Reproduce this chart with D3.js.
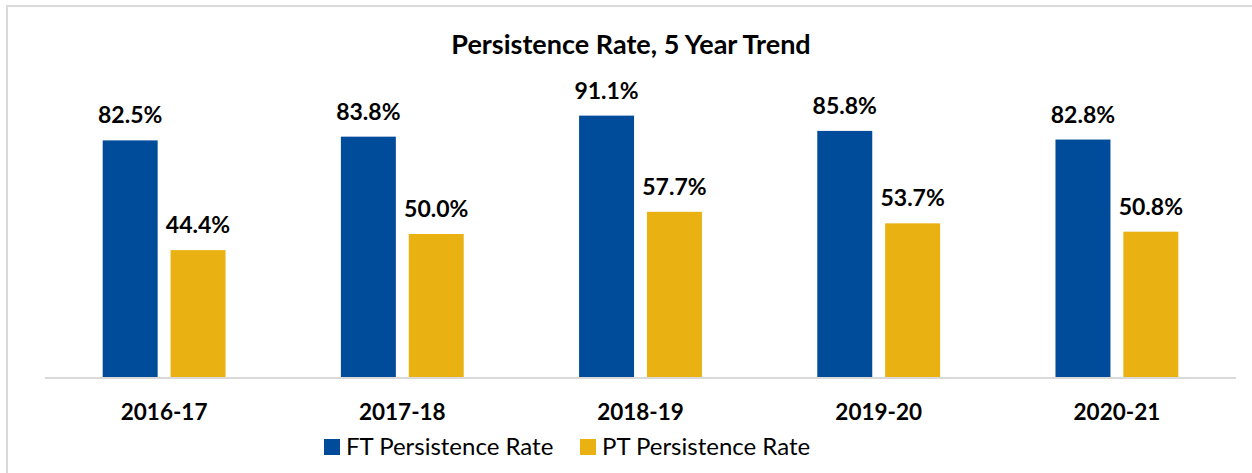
<!DOCTYPE html>
<html>
<head>
<meta charset="utf-8">
<script src="https://cdn.jsdelivr.net/npm/d3@7"></script>
<style>
  body { margin: 0; background: #fff; }
  svg text { font-family: Lato, "Open Sans", sans-serif; fill: #000; }
</style>
</head>
<body>
<svg id="chart"></svg>
<script>
const width = 1252;
const height = 473;
const margin = {left: 45, right: 16, top: 90, bottom: 95};

const years = ["2016-17", "2017-18", "2018-19", "2019-20", "2020-21"];
const series = ["FT Persistence Rate", "PT Persistence Rate"];
const ft_rate = [82.5, 83.8, 91.1, 85.8, 82.8];
const pt_rate = [44.4, 50.0, 57.7, 53.7, 50.8];
const colors = ["#004B9A", "#E9B112"];

const svg = d3.select("#chart")
    .attr("width", width)
    .attr("height", height);

// chart frame, runs off right/bottom like the screenshot
svg.append("rect")
    .attr("x", 7)
    .attr("y", 6)
    .attr("width", width + 10)
    .attr("height", height + 10)
    .attr("fill", "none")
    .attr("stroke", "#d9d9d9")
    .attr("stroke-width", 2);

const x = d3.scaleBand()
    .domain(years)
    .range([margin.left, width - margin.right]);

const x_inner = d3.scaleBand()
    .domain(series)
    .range([0, x.bandwidth()])
    .paddingInner(0.19)
    .paddingOuter(0.85);

const y = d3.scaleLinear()
    .domain([0, 100])
    .range([height - margin.bottom, margin.top]);

const rows = years.map((yr, i) => ({year: yr, values: [ft_rate[i], pt_rate[i]]}));

svg.append("text")
    .attr("x", 631)
    .attr("y", 54)
    .attr("text-anchor", "middle")
    .style("font-size", "27px")
    .style("font-weight", "bold")
    .text("Persistence Rate, 5 Year Trend");

const groups = svg.selectAll(".group")
    .data(rows)
    .enter().append("g")
        .attr("class", "group")
        .attr("transform", d => `translate(${x(d.year)},0)`);

groups.selectAll("rect")
    .data(d => d.values.map((v, j) => ({name: series[j], value: v, j: j})))
    .enter().append("rect")
        .attr("x", d => x_inner(d.name))
        .attr("width", x_inner.bandwidth())
        .attr("y", d => y(d.value))
        .attr("height", d => y(0) - y(d.value))
        .attr("fill", d => colors[d.j]);

groups.selectAll(".val")
    .data(d => d.values.map((v, j) => ({name: series[j], value: v})))
    .enter().append("text")
        .attr("class", "val")
        .attr("x", d => x_inner(d.name) + x_inner.bandwidth() / 2)
        .attr("y", d => y(d.value) - 17)
        .attr("text-anchor", "middle")
        .style("font-size", "23px")
        .style("font-weight", "bold")
        .text(d => d.value.toFixed(1) + "%");

// baseline
svg.append("line")
    .attr("x1", margin.left)
    .attr("x2", width - margin.right)
    .attr("y1", y(0))
    .attr("y2", y(0))
    .attr("stroke", "#d9d9d9")
    .attr("stroke-width", 2);

const x_axis = svg.append("g")
    .attr("transform", `translate(0,${y(0)})`)
    .call(d3.axisBottom(x).tickSize(0).tickPadding(26));
x_axis.select(".domain").remove();
x_axis.selectAll("text")
    .style("font-family", "Lato, sans-serif")
    .style("font-size", "22.5px")
    .style("font-weight", "bold")
    .attr("fill", "#000");

// legend
const legend_x = [324, 580];
const legend = svg.selectAll(".legend")
    .data(series)
    .enter().append("g")
        .attr("class", "legend")
        .attr("transform", (d, i) => `translate(${legend_x[i]},439)`);

legend.append("rect")
    .attr("width", 16)
    .attr("height", 16)
    .attr("fill", (d, i) => colors[i]);

legend.append("text")
    .attr("x", 22)
    .attr("y", 16)
    .style("font-size", "24px")
    .text(d => d);
</script>
</body>
</html>
